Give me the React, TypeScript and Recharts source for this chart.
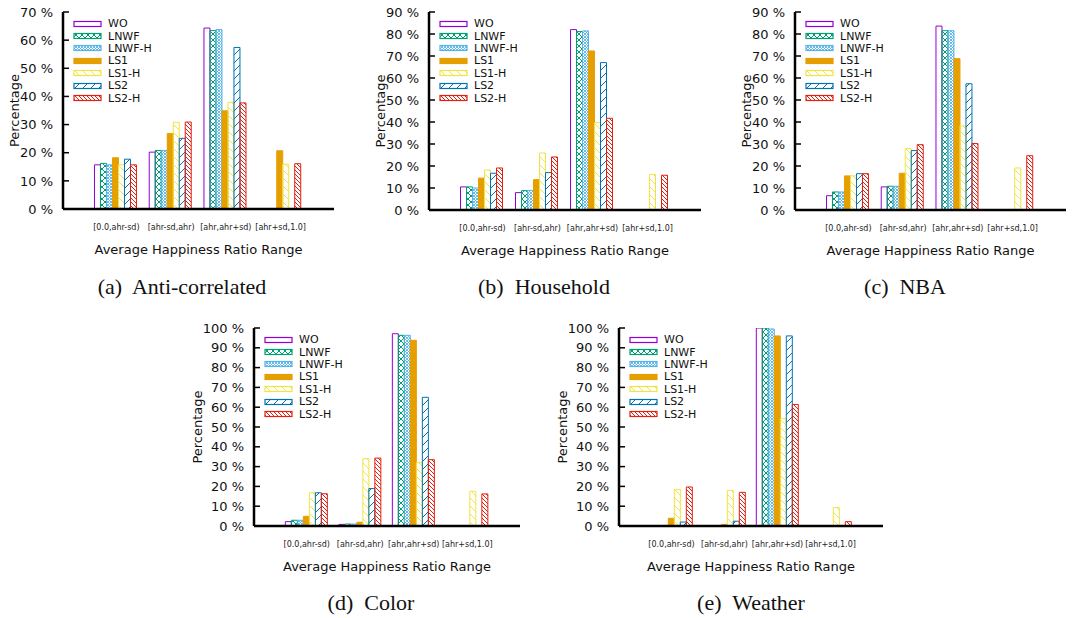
import React from 'react';
import { BarChart, Bar, XAxis, YAxis, Legend } from 'recharts';

const FONT = '"DejaVu Sans", Verdana, sans-serif';

const categories = ['[0.0,ahr-sd)', '[ahr-sd,ahr)', '[ahr,ahr+sd)', '[ahr+sd,1.0]'];
const seriesNames = ['WO', 'LNWF', 'LNWF-H', 'LS1', 'LS1-H', 'LS2', 'LS2-H'];
const seriesColors = ['#9400D3', '#009E73', '#56B4E9', '#E69F00', '#F0E442', '#0072B2', '#E51E10'];
const seriesFills = ['none', 'url(#p-lnwf)', 'url(#p-lnwfh)', '#E69F00', 'url(#p-ls1h)', 'url(#p-ls2)', 'url(#p-ls2h)'];

const ticks70 = [0, 10, 20, 30, 40, 50, 60, 70];
const ticks90 = [0, 10, 20, 30, 40, 50, 60, 70, 80, 90];
const ticks100 = [0, 10, 20, 30, 40, 50, 60, 70, 80, 90, 100];

// (a) Anti-correlated
const antiWO = [15.7, 20.2, 64.3, 0];
const antiLNWF = [16.2, 20.8, 63.4, 0];
const antiLNWFH = [15.7, 20.8, 63.8, 0];
const antiLS1 = [18.2, 26.8, 34.9, 20.7];
const antiLS1H = [15.7, 30.8, 37.9, 15.9];
const antiLS2 = [17.7, 25.1, 57.4, 0];
const antiLS2H = [15.7, 30.9, 37.7, 16.1];

// (b) Household
const houseWO = [10.5, 7.9, 82.0, 0];
const houseLNWF = [10.5, 8.8, 81.1, 0];
const houseLNWFH = [10.0, 8.9, 81.4, 0];
const houseLS1 = [14.5, 13.8, 72.3, 0];
const houseLS1H = [18.2, 25.9, 39.7, 16.2];
const houseLS2 = [16.7, 17.0, 67.0, 0];
const houseLS2H = [19.1, 24.1, 41.7, 15.8];

// (c) NBA
const nbaWO = [6.5, 10.5, 83.6, 0];
const nbaLNWF = [8.2, 10.8, 81.5, 0];
const nbaLNWFH = [8.2, 10.8, 81.5, 0];
const nbaLS1 = [15.5, 16.7, 68.8, 0];
const nbaLS1H = [15.5, 27.9, 38.2, 19.1];
const nbaLS2 = [16.5, 27.0, 57.4, 0];
const nbaLS2H = [16.5, 29.7, 30.2, 24.7];

// (d) Color
const colorWO = [2.2, 0.8, 97.1, 0];
const colorLNWF = [2.9, 1.0, 96.3, 0];
const colorLNWFH = [2.9, 1.0, 96.3, 0];
const colorLS1 = [4.9, 1.9, 93.8, 0];
const colorLS1H = [16.8, 34.0, 32.0, 17.5];
const colorLS2 = [16.8, 18.9, 65.0, 0];
const colorLS2H = [16.3, 34.3, 33.5, 16.2];

// (e) Weather
const weatherWO = [0, 0, 100, 0];
const weatherLNWF = [0, 0, 100, 0];
const weatherLNWFH = [0, 0, 99.5, 0];
const weatherLS1 = [3.9, 0.8, 96.0, 0];
const weatherLS1H = [18.5, 18.0, 54.2, 9.3];
const weatherLS2 = [2.0, 2.4, 96.0, 0];
const weatherLS2H = [19.7, 17.0, 61.4, 2.2];

const AXIS_W = 66;
const MT = 8;
const MR = 8;
const XAXIS_H = 56;

const YTick = (props: any) => {
  const { x, y, payload } = props;
  return (
    <g>
      <line x1={x + 10} x2={x + 16} y1={y} y2={y} stroke="#000" strokeWidth={1.5} />
      <text x={x} y={y} dy="0.36em" textAnchor="end" fontSize={13} fontFamily={FONT} fill="#111">
        {`${payload.value} %`}
      </text>
    </g>
  );
};

const LegendBox = () => (
  <div style={{ fontFamily: FONT, fontSize: 11, color: '#111', lineHeight: 1 }}>
    {seriesNames.map((n, k) => (
      <div key={n} style={{ display: 'flex', alignItems: 'center', height: 12.4 }}>
        <svg width={30} height={8} style={{ display: 'block' }}>
          <rect x={1} y={1.5} width={27} height={5} fill={seriesFills[k]} stroke={seriesColors[k]} strokeWidth={1.2} />
        </svg>
        <span style={{ marginLeft: 5 }}>{n}</span>
      </div>
    ))}
  </div>
);

type PanelProps = {
  series: number[][];
  ticks: number[];
  frame: [number, number, number, number];
  yLabelGap: number;
};

function Panel({ series, ticks, frame, yLabelGap }: PanelProps) {
  const [l, t, r, b] = frame;
  const pw = r - l;
  const ph = b - t;
  const data = categories.map((cat, i) => {
    const row: any = { cat };
    seriesNames.forEach((n, k) => {
      row[n] = series[k][i];
    });
    return row;
  });
  const pad = Math.round(pw * 0.097);
  const frameLine = { stroke: '#000', strokeWidth: 2.5 };
  return (
    <div style={{ position: 'absolute', left: l - AXIS_W, top: t - MT }}>
      <BarChart
        width={pw + AXIS_W + MR}
        height={ph + MT + XAXIS_H}
        data={data}
        margin={{ top: MT, right: MR, bottom: 0, left: 0 }}
        barCategoryGap="10%"
        barGap={0}
      >
        <XAxis
          dataKey="cat"
          height={XAXIS_H}
          padding={{ left: pad, right: pad }}
          tickSize={0}
          tickMargin={15}
          tickLine={false}
          interval={0}
          axisLine={frameLine}
          tick={{ fontSize: 8, fontFamily: FONT, fill: '#222' }}
          label={{
            value: 'Average Happiness Ratio Range',
            position: 'insideBottom',
            offset: 11,
            style: { fontSize: 13, fontFamily: FONT, fill: '#111' },
          }}
        />
        <XAxis xAxisId="top" orientation="top" dataKey="cat" height={0} tick={false} tickLine={false} axisLine={frameLine} />
        <YAxis
          width={AXIS_W}
          domain={[0, ticks[ticks.length - 1]]}
          ticks={ticks}
          interval={0}
          allowDataOverflow
          tickSize={0}
          tickMargin={10}
          tickLine={false}
          axisLine={frameLine}
          tick={(p: any) => <YTick {...p} />}
          label={{
            value: 'Percentage',
            angle: -90,
            position: 'insideLeft',
            offset: AXIS_W - yLabelGap,
            style: { textAnchor: 'middle', fontSize: 13, fontFamily: FONT, fill: '#111' },
          }}
        />
        <YAxis yAxisId="right" orientation="right" width={0} tick={false} tickLine={false} axisLine={frameLine} />
        <Legend
          content={() => <LegendBox />}
          layout="horizontal"
          align="center"
          verticalAlign="middle"
          wrapperStyle={{ left: AXIS_W + 10, top: MT + 5.5, width: 'auto', height: 'auto' }}
        />
        {seriesNames.map((n, k) => (
          <Bar
            key={n}
            dataKey={n}
            fill={seriesFills[k]}
            stroke={seriesColors[k]}
            strokeWidth={1}
            isAnimationActive={false}
          />
        ))}
      </BarChart>
    </div>
  );
}

const Caption = ({ text, x, y }: { text: string; x: number; y: number }) => (
  <div
    style={{
      position: 'absolute',
      left: x,
      top: y - 14,
      transform: 'translateX(-50%)',
      fontFamily: '"Liberation Serif", "Times New Roman", serif',
      fontSize: 22,
      whiteSpace: 'pre',
      color: '#111',
      lineHeight: '28px',
    }}
  >
    {text}
  </div>
);

const Patterns = () => (
  <svg width={0} height={0} style={{ position: 'absolute' }}>
    <defs>
      <pattern id="p-lnwf" patternUnits="userSpaceOnUse" width={6} height={6}>
        <path d="M0,0 L6,6 M6,0 L0,6" stroke="#009E73" strokeWidth={1} fill="none" />
      </pattern>
      <pattern id="p-lnwfh" patternUnits="userSpaceOnUse" width={3} height={3}>
        <path d="M0,0 L3,3 M3,0 L0,3" stroke="#56B4E9" strokeWidth={0.9} fill="none" />
      </pattern>
      <pattern id="p-ls1h" patternUnits="userSpaceOnUse" width={8} height={8}>
        <path d="M0,0 L8,8 M-1,7 L1,9 M7,-1 L9,1" stroke="#F0E442" strokeWidth={1} fill="none" />
      </pattern>
      <pattern id="p-ls2" patternUnits="userSpaceOnUse" width={8} height={8}>
        <path d="M0,8 L8,0 M-1,1 L1,-1 M7,9 L9,7" stroke="#0072B2" strokeWidth={1} fill="none" />
      </pattern>
      <pattern id="p-ls2h" patternUnits="userSpaceOnUse" width={4} height={4}>
        <path d="M0,0 L4,4 M-1,3 L1,5 M3,-1 L5,1" stroke="#E51E10" strokeWidth={1} fill="none" />
      </pattern>
    </defs>
  </svg>
);

export default function App() {
  return (
    <div style={{ position: 'absolute', left: 0, top: 0, width: 1078, height: 618, background: '#fff', overflow: 'hidden' }}>
      <Patterns />
      <Panel
        series={[antiWO, antiLNWF, antiLNWFH, antiLS1, antiLS1H, antiLS2, antiLS2H]}
        ticks={ticks70}
        frame={[63, 12, 334, 209]}
        yLabelGap={49}
      />
      <Panel
        series={[houseWO, houseLNWF, houseLNWFH, houseLS1, houseLS1H, houseLS2, houseLS2H]}
        ticks={ticks90}
        frame={[429, 12, 701, 210]}
        yLabelGap={49}
      />
      <Panel
        series={[nbaWO, nbaLNWF, nbaLNWFH, nbaLS1, nbaLS1H, nbaLS2, nbaLS2H]}
        ticks={ticks90}
        frame={[795, 12, 1066, 210]}
        yLabelGap={49}
      />
      <Panel
        series={[colorWO, colorLNWF, colorLNWFH, colorLS1, colorLS1H, colorLS2, colorLS2H]}
        ticks={ticks100}
        frame={[254, 328, 520, 526]}
        yLabelGap={57}
      />
      <Panel
        series={[weatherWO, weatherLNWF, weatherLNWFH, weatherLS1, weatherLS1H, weatherLS2, weatherLS2H]}
        ticks={ticks100}
        frame={[619, 328, 883, 526]}
        yLabelGap={57}
      />
      <Caption text="(a)  Anti-correlated" x={182} y={287} />
      <Caption text="(b)  Household" x={544} y={287} />
      <Caption text="(c)  NBA" x={905} y={287} />
      <Caption text="(d)  Color" x={371} y={603} />
      <Caption text="(e)  Weather" x={751} y={603} />
    </div>
  );
}
